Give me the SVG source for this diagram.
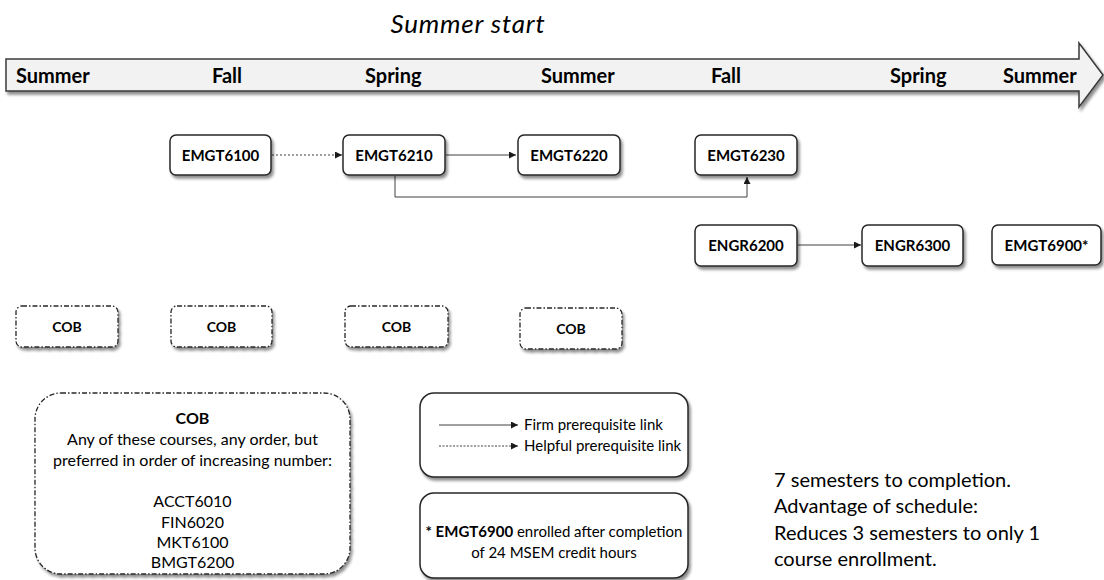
<svg xmlns="http://www.w3.org/2000/svg" width="1104" height="580" viewBox="0 0 1104 580">
<defs>
<filter id="sh" x="-10%" y="-20%" width="130%" height="160%">
<feGaussianBlur in="SourceAlpha" stdDeviation="1.5"/>
<feOffset dx="2" dy="3" result="b"/>
<feComponentTransfer><feFuncA type="linear" slope="0.45"/></feComponentTransfer>
<feMerge><feMergeNode/><feMergeNode in="SourceGraphic"/></feMerge>
</filter>
<marker id="ah" viewBox="0 0 10 10" refX="10" refY="5" markerWidth="7" markerHeight="7" markerUnits="userSpaceOnUse" orient="auto">
<path d="M0,0 L10,5 L0,10 Z" fill="#1a1a1a"/>
</marker>
</defs>
<style>
.node{fill:#fff;stroke:#262626;stroke-width:1.5;filter:url(#sh)}
.cob{fill:#fff;stroke:#262626;stroke-width:1.3;stroke-dasharray:5 2 1.5 2;filter:url(#sh)}
.nt{font-family:Lato,"Liberation Sans",sans-serif;font-weight:bold;font-size:15px;fill:#000;text-anchor:middle}
.ct{font-family:Lato,"Liberation Sans",sans-serif;font-weight:bold;font-size:14px;fill:#000;text-anchor:middle}
.tl{font-family:Lato,"Liberation Sans",sans-serif;font-weight:bold;font-size:20px;fill:#000}
.bt{font-family:Lato,"Liberation Sans",sans-serif;font-size:15px;fill:#000}
.nb{font-family:Lato,"Liberation Sans",sans-serif;font-size:16px;fill:#000;text-anchor:middle}
.conn{fill:none;stroke:#404040;stroke-width:1;marker-end:url(#ah)}
</style>
<rect width="1104" height="580" fill="#fff"/>
<text x="468" y="33" font-family="Lato,'Liberation Sans',sans-serif" font-style="italic" font-size="26" letter-spacing="0.8" text-anchor="middle" fill="#000">Summer start</text>
<g id="timeline">
<path d="M6,59 L1079,59 L1079,43 L1103,75 L1079,107 L1079,91 L6,91 Z" fill="#f2f2f2" stroke="#3a3a3a" stroke-width="1.5" filter="url(#sh)"/>
<text class="tl" x="16" y="83">Summer</text>
<text class="tl" x="212" y="83">Fall</text>
<text class="tl" x="365" y="83">Spring</text>
<text class="tl" x="541" y="83">Summer</text>
<text class="tl" x="711" y="83">Fall</text>
<text class="tl" x="890" y="83">Spring</text>
<text class="tl" x="1003" y="83">Summer</text>
</g>
<g id="connectors">
<path class="conn" d="M272,155 L342,155" stroke-dasharray="2 2"/>
<path class="conn" d="M446,155 L516,155"/>
<path class="conn" d="M395,176 L395,197 L747,197 L747,177"/>
<path class="conn" d="M798,245 L861,245"/>
</g>
<g id="EMGT6100"><rect class="node" x="170" y="135" width="101" height="40" rx="6"/><text class="nt" x="220.5" y="160.5">EMGT6100</text></g>
<g id="EMGT6210"><rect class="node" x="343" y="135" width="102" height="40" rx="6"/><text class="nt" x="394" y="160.5">EMGT6210</text></g>
<g id="EMGT6220"><rect class="node" x="518" y="135" width="102" height="40" rx="6"/><text class="nt" x="569" y="160.5">EMGT6220</text></g>
<g id="EMGT6230"><rect class="node" x="695" y="135" width="102" height="40" rx="6"/><text class="nt" x="746" y="160.5">EMGT6230</text></g>
<g id="ENGR6200"><rect class="node" x="695" y="225" width="102" height="41" rx="6"/><text class="nt" x="746" y="251">ENGR6200</text></g>
<g id="ENGR6300"><rect class="node" x="862" y="225" width="101" height="41" rx="6"/><text class="nt" x="912.5" y="251">ENGR6300</text></g>
<g id="EMGT6900"><rect class="node" x="992" y="225" width="109" height="40" rx="6"/><text class="nt" x="1046.5" y="250.5">EMGT6900*</text></g>
<g id="COB1"><rect class="cob" x="16" y="306" width="102" height="41" rx="6"/><text class="ct" x="67" y="331.5">COB</text></g>
<g id="COB2"><rect class="cob" x="171" y="306" width="101" height="41" rx="6"/><text class="ct" x="221.5" y="331.5">COB</text></g>
<g id="COB3"><rect class="cob" x="345" y="306" width="103" height="41" rx="6"/><text class="ct" x="396.5" y="331.5">COB</text></g>
<g id="COB4"><rect class="cob" x="520" y="308" width="102" height="41" rx="6"/><text class="ct" x="571" y="333.5">COB</text></g>
<g id="cob-note">
<rect class="cob" x="35" y="393" width="315" height="181" rx="26"/>
<text class="nb" x="192.5" y="424" font-weight="bold">COB</text>
<text class="nb" x="192.5" y="445">Any of these courses, any order, but</text>
<text class="nb" x="192.5" y="466">preferred in order of increasing number:</text>
<text class="nb" x="192.5" y="507">ACCT6010</text>
<text class="nb" x="192.5" y="527.5">FIN6020</text>
<text class="nb" x="192.5" y="548">MKT6100</text>
<text class="nb" x="192.5" y="568">BMGT6200</text>
</g>
<g id="legend">
<rect class="node" x="420" y="393" width="268" height="84" rx="14"/>
<path class="conn" d="M439,425 L518,425"/>
<path class="conn" d="M439,446 L518,446" stroke-dasharray="2 1.5"/>
<text class="bt" x="524" y="430" font-size="15.75">Firm prerequisite link</text>
<text class="bt" x="524" y="451" font-size="15.75">Helpful prerequisite link</text>
</g>
<g id="footnote">
<rect class="node" x="420" y="493" width="268" height="85" rx="14"/>
<text class="bt" text-anchor="middle" x="554" y="537"><tspan font-weight="bold">* EMGT6900</tspan> enrolled after completion</text>
<text class="bt" text-anchor="middle" x="554" y="558">of 24 MSEM credit hours</text>
</g>
<g id="summary" font-family="Lato,'Liberation Sans',sans-serif" font-size="20" fill="#000">
<text x="774" y="487">7 semesters to completion.</text>
<text x="774" y="513">Advantage of schedule:</text>
<text x="774" y="540">Reduces 3 semesters to only 1</text>
<text x="774" y="566">course enrollment.</text>
</g>
</svg>
